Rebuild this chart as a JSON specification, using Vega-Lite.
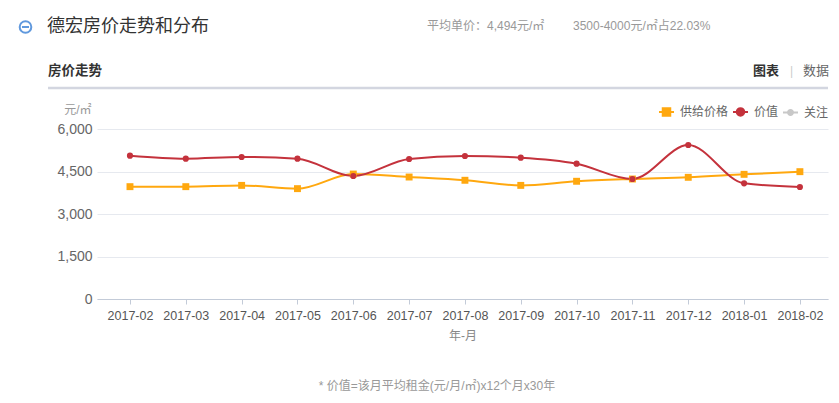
{
  "$schema": "https://vega.github.io/schema/vega-lite/v6.json",
  "width": 731,
  "height": 170,
  "autosize": "none",
  "padding": {"left": 97, "top": 129, "right": 11, "bottom": 104},
  "background": "white",
  "config": {
    "font": "Liberation Sans, Noto Sans CJK SC, sans-serif",
    "view": {"stroke": null}
  },
  "datasets": {
    "prices": [
      {"month": "2017-02", "series": "供给价格", "price": 3965},
      {"month": "2017-03", "series": "供给价格", "price": 3965},
      {"month": "2017-04", "series": "供给价格", "price": 4010},
      {"month": "2017-05", "series": "供给价格", "price": 3895},
      {"month": "2017-06", "series": "供给价格", "price": 4410},
      {"month": "2017-07", "series": "供给价格", "price": 4305},
      {"month": "2017-08", "series": "供给价格", "price": 4190},
      {"month": "2017-09", "series": "供给价格", "price": 4010},
      {"month": "2017-10", "series": "供给价格", "price": 4155},
      {"month": "2017-11", "series": "供给价格", "price": 4235},
      {"month": "2017-12", "series": "供给价格", "price": 4295},
      {"month": "2018-01", "series": "供给价格", "price": 4400},
      {"month": "2018-02", "series": "供给价格", "price": 4494},
      {"month": "2017-02", "series": "价值", "price": 5058},
      {"month": "2017-03", "series": "价值", "price": 4952},
      {"month": "2017-04", "series": "价值", "price": 5012},
      {"month": "2017-05", "series": "价值", "price": 4952},
      {"month": "2017-06", "series": "价值", "price": 4341},
      {"month": "2017-07", "series": "价值", "price": 4941},
      {"month": "2017-08", "series": "价值", "price": 5047},
      {"month": "2017-09", "series": "价值", "price": 4988},
      {"month": "2017-10", "series": "价值", "price": 4776},
      {"month": "2017-11", "series": "价值", "price": 4235},
      {"month": "2017-12", "series": "价值", "price": 5435},
      {"month": "2018-01", "series": "价值", "price": 4082},
      {"month": "2018-02", "series": "价值", "price": 3953}
    ]
  },
  "layer": [
    {
      "data": {"name": "prices"},
      "mark": {"type": "line", "interpolate": "monotone", "strokeWidth": 2},
      "encoding": {
        "x": {
          "field": "month", "type": "ordinal", "sort": null,
          "scale": {"type": "point", "padding": 0.547, "align": 0.54},
          "axis": {
            "labelAngle": 0, "labelFontSize": 12.5, "labelColor": "#555", "labelPadding": 5,
            "domainColor": "#c3cbd8", "tickColor": "#c3cbd8", "tickSize": 5, "grid": false,
            "title": "年-月", "titleFontSize": 12, "titleFontWeight": "normal", "titleColor": "#888", "titlePadding": 9
          }
        },
        "y": {
          "field": "price", "type": "quantitative",
          "scale": {"domain": [0, 6000], "nice": false},
          "axis": {
            "values": [0, 1500, 3000, 4500, 6000], "format": ",d",
            "labelFontSize": 14, "labelColor": "#666", "labelPadding": 5,
            "domain": false, "ticks": false, "gridColor": "#e6e9ef",
            "title": "元/㎡", "titleAngle": 0, "titleAlign": "right", "titleBaseline": "middle",
            "titleX": -6, "titleY": -20, "titleFontSize": 12, "titleFontWeight": "normal", "titleColor": "#999"
          }
        },
        "color": {
          "field": "series", "type": "nominal",
          "scale": {"domain": ["供给价格", "价值", "关注"], "range": ["#ffa80f", "#c4323c", "#c8c8c8"]},
          "legend": {
            "title": null, "orient": "none", "direction": "horizontal",
            "legendX": 561, "legendY": -26,
            "labelFontSize": 12, "labelColor": "#666", "labelOffset": 5,
            "columnPadding": 0, "symbolSize": 225, "symbolStrokeWidth": 2,
            "encode": {
              "symbols": {
                "update": {
                  "shape": {"signal": "datum.value === '供给价格' ? 'M-1,0H1M-0.5,-0.5H0.5V0.5H-0.5Z' : (datum.value === '价值' ? 'M-1,0H1M0.5,0A0.5,0.5 0 1,1 -0.5,0A0.5,0.5 0 1,1 0.5,0Z' : 'M-1,0H1M0.33,0A0.33,0.33 0 1,1 -0.33,0A0.33,0.33 0 1,1 0.33,0Z')"},
                  "fill": {"scale": "color", "field": "value"},
                  "stroke": {"scale": "color", "field": "value"},
                  "strokeWidth": {"value": 2},
                  "opacity": {"value": 1}
                }
              }
            }
          }
        }
      }
    },
    {
      "data": {"name": "prices"},
      "mark": {"type": "point", "filled": true, "opacity": 1},
      "encoding": {
        "x": {"field": "month", "type": "ordinal", "sort": null},
        "y": {"field": "price", "type": "quantitative"},
        "color": {"field": "series", "type": "nominal"},
        "shape": {
          "field": "series", "type": "nominal",
          "scale": {"domain": ["供给价格", "价值"], "range": ["square", "circle"]},
          "legend": null
        },
        "size": {
          "field": "series", "type": "nominal",
          "scale": {"domain": ["供给价格", "价值"], "range": [48, 38]},
          "legend": null
        }
      }
    },
    {
      "data": {"values": [{"k": "icon"}]},
      "mark": {"type": "point", "shape": "circle", "filled": false, "stroke": "#1e6ed0", "strokeWidth": 2, "size": 135},
      "encoding": {"x": {"value": -71.5}, "y": {"value": -102}}
    },
    {
      "data": {"values": [{"k": "minus"}]},
      "mark": {"type": "point", "shape": "M-1,0H1", "filled": false, "stroke": "#1e6ed0", "strokeWidth": 2, "size": 49},
      "encoding": {"x": {"value": -71.5}, "y": {"value": -102}}
    },
    {
      "data": {"values": [{"t": "德宏房价走势和分布"}]},
      "mark": {"type": "text", "align": "left", "baseline": "middle", "fontSize": 18, "color": "#333", "font": "Noto Sans CJK SC"},
      "encoding": {"text": {"field": "t"}, "x": {"value": -50}, "y": {"value": -102}}
    },
    {
      "data": {"values": [{"t": "平均单价：4,494元/㎡"}]},
      "mark": {"type": "text", "align": "left", "baseline": "middle", "fontSize": 12, "color": "#999"},
      "encoding": {"text": {"field": "t"}, "x": {"value": 330}, "y": {"value": -103}}
    },
    {
      "data": {"values": [{"t": "3500-4000元/㎡占22.03%"}]},
      "mark": {"type": "text", "align": "left", "baseline": "middle", "fontSize": 12, "color": "#999"},
      "encoding": {"text": {"field": "t"}, "x": {"value": 476}, "y": {"value": -103}}
    },
    {
      "data": {"values": [{"t": "房价走势"}]},
      "mark": {"type": "text", "align": "left", "baseline": "middle", "fontSize": 13.5, "fontWeight": "bold", "color": "#333"},
      "encoding": {"text": {"field": "t"}, "x": {"value": -49}, "y": {"value": -58}}
    },
    {
      "data": {"values": [{"t": "图表"}]},
      "mark": {"type": "text", "align": "left", "baseline": "middle", "fontSize": 13, "fontWeight": "bold", "color": "#333"},
      "encoding": {"text": {"field": "t"}, "x": {"value": 656}, "y": {"value": -58}}
    },
    {
      "data": {"values": [{"t": "|"}]},
      "mark": {"type": "text", "align": "left", "baseline": "middle", "fontSize": 12, "color": "#ccc"},
      "encoding": {"text": {"field": "t"}, "x": {"value": 693}, "y": {"value": -58}}
    },
    {
      "data": {"values": [{"t": "数据"}]},
      "mark": {"type": "text", "align": "left", "baseline": "middle", "fontSize": 13, "color": "#666"},
      "encoding": {"text": {"field": "t"}, "x": {"value": 706}, "y": {"value": -58}}
    },
    {
      "data": {"values": [{"k": "sep"}]},
      "mark": {"type": "rule", "color": "#d3d6e0", "strokeWidth": 2.5},
      "encoding": {"x": {"value": -49}, "x2": {"value": 731}, "y": {"value": -41}}
    },
    {
      "data": {"values": [{"t": "* 价值=该月平均租金(元/月/㎡)x12个月x30年"}]},
      "mark": {"type": "text", "align": "center", "baseline": "middle", "fontSize": 12, "color": "#999"},
      "encoding": {"text": {"field": "t"}, "x": {"value": 340}, "y": {"value": 257}}
    }
  ]
}
